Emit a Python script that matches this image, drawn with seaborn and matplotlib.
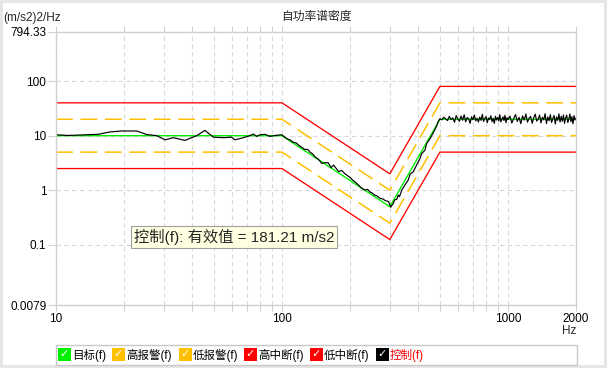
import numpy as np
import pandas as pd
import matplotlib
matplotlib.use("Agg")
import matplotlib.pyplot as plt
from matplotlib.patches import Rectangle
from matplotlib.ticker import FixedLocator, NullLocator, NullFormatter
import seaborn as sns

# ---------------- data ----------------
profile_freq = [10, 100, 300, 500, 2000]
target_psd = [10, 10, 0.5, 20, 20]
high_alarm = [20, 20, 1.0, 40, 40]
low_alarm = [5, 5, 0.25, 10, 10]
high_abort = [40, 40, 2.0, 80, 80]
low_abort = [2.5, 2.5, 0.125, 5, 5]

ctrl_freq_low = [10, 11.3, 13.7, 15.4, 17.3, 19.5, 22.8, 25.2, 27.9, 30.4, 33.0, 37.2,
                 41.9, 45.6, 49.7, 55.0, 59.8, 61.9, 67.5, 72.1, 74.7, 77.3, 80.0,
                 84.1, 88.5, 94.8, 99.8]
ctrl_psd_low = [10.4, 10.1, 10.4, 10.6, 11.7, 12.2, 12.2, 10.5, 10.0, 8.4, 9.2, 8.2,
                10.0, 12.5, 9.4, 9.2, 9.4, 8.4, 9.2, 10.0, 10.7, 9.7, 10.4,
                10.6, 9.7, 10.2, 10.4]

ctrl_freq_mid = [103, 105, 109, 112, 116, 119, 122, 126, 130, 133, 137, 140, 145, 150,
                 155, 160, 165, 169, 174, 178, 184, 190, 195, 200, 205, 210, 218,
                 225, 233, 239, 245, 250, 256, 263, 272, 280, 286, 296, 303, 311,
                 316, 322, 327, 331, 339, 350, 362, 369, 381, 394, 408, 415, 429,
                 437, 452, 460, 475, 484, 492, 500]
ctrl_psd_mid = [9.4, 8.8, 8.3, 7.6, 7.3, 6.6, 6.2, 5.6, 5.6, 5.0, 4.6, 4.1, 3.7, 3.1,
                3.2, 3.2, 2.6, 2.9, 2.5, 2.2, 2.3, 2.0, 1.85, 1.72, 1.55, 1.43, 1.25,
                1.09, 1.01, 1.04, 0.93, 0.90, 0.82, 0.79, 0.71, 0.69, 0.65, 0.62, 0.49, 0.58,
                0.67, 0.68, 0.82, 0.76, 1.01, 1.25, 1.54, 1.98, 2.18, 2.89, 3.82, 4.7, 5.4,
                7.2, 8.8, 10.1, 12.9, 15.4, 18.4, 20.4]

ctrl_freq_high = [510, 520, 530, 540, 550, 560, 570, 580, 590, 600, 610, 620, 630, 640,
                  650, 660, 670, 680, 690, 700, 710, 720, 730, 740, 750, 760, 770, 780,
                  790, 800, 810, 820, 830, 840, 850, 860, 870, 880, 890, 900, 910, 920,
                  930, 940, 950, 960, 970, 980, 990, 1000,
                  1020, 1040, 1060, 1080, 1100, 1120, 1140, 1160, 1180, 1200, 1220, 1240,
                  1260, 1280, 1300, 1320, 1340, 1360, 1380, 1400, 1420, 1440, 1460, 1480,
                  1500, 1520, 1540, 1560, 1580, 1600, 1620, 1640, 1660, 1680, 1700, 1720,
                  1740, 1760, 1780, 1800, 1820, 1840, 1860, 1880, 1900, 1920, 1940, 1960,
                  1980, 2000]
ctrl_psd_high = [19.5, 21.8, 20.4, 18.9, 22.6, 19.8, 21.2, 17.6, 23.4, 20.1, 18.4, 22.9,
                 19.2, 24.1, 18.0, 21.5, 20.3, 16.9, 22.2, 19.6, 23.8, 18.7, 20.9, 17.8,
                 21.9, 19.1, 24.6, 18.3, 20.6, 22.4, 17.4, 21.1, 19.9, 23.2, 18.1, 20.8,
                 16.8, 22.7, 19.4, 21.6, 18.6, 24.3, 17.9, 20.2, 22.1, 19.0, 23.6, 17.3,
                 21.4, 19.7,
                 22.8, 17.1, 20.5, 24.4, 18.2, 21.7, 16.6, 23.1, 19.3, 25.0, 17.7, 20.9,
                 22.5, 16.9, 21.3, 24.8, 18.5, 20.0, 23.9, 17.2, 21.8, 19.5, 25.3, 16.7,
                 22.0, 18.8, 24.2, 17.5, 20.7, 23.4, 16.4, 21.9, 19.1, 25.1, 17.8, 22.6,
                 18.3, 24.0, 16.8, 21.2, 23.7, 17.4, 20.4, 24.9, 18.0, 22.3, 16.5, 23.3,
                 19.4, 21.0]

y_ticks = [0.0079, 0.1, 1, 10, 100, 794.33]
y_tick_labels = ["0.0079", "0.1", "1", "10", "100", "794.33"]
x_ticks = [10, 100, 1000, 2000]
x_tick_labels = ["10", "100", "1000", "2000"]
x_minor = [20, 30, 40, 50, 60, 70, 80, 90, 200, 300, 400, 500, 600, 700, 800, 900]

legend_labels = ["目标(f)", "高报警(f)", "低报警(f)", "高中断(f)", "低中断(f)", "控制(f)"]
rms_text = "控制(f): 有效值 = 181.21 m/s2"

# ---------------- style ----------------
sns.set_style("white")
plt.rcParams["font.family"] = ["Liberation Sans", "Noto Sans CJK SC", "DejaVu Sans"]

W, H = 607, 368
fig = plt.figure(figsize=(W / 100, H / 100), dpi=100)
fig.patch.set_facecolor("white")
ax = fig.add_axes([56 / W, (H - 305) / H, 520 / W, 273 / H])
ax.set_xscale("log")
ax.set_yscale("log")

RED = "#FF0000"
YEL = "#FFC000"
GRN = "#00F000"

prof = pd.DataFrame({"f": profile_freq, "target": target_psd, "ha": high_alarm,
                     "la": low_alarm, "hb": high_abort, "lb": low_abort})
ctrl = pd.DataFrame({"f": ctrl_freq_low + ctrl_freq_mid + ctrl_freq_high,
                     "v": ctrl_psd_low + ctrl_psd_mid + ctrl_psd_high})

sns.lineplot(data=prof, x="f", y="hb", ax=ax, color=RED, lw=0.95, estimator=None, sort=False)
sns.lineplot(data=prof, x="f", y="lb", ax=ax, color=RED, lw=0.95, estimator=None, sort=False)
sns.lineplot(data=prof, x="f", y="ha", ax=ax, color=YEL, lw=1.1, estimator=None, sort=False,
             linestyle=(0, (11, 5)))
sns.lineplot(data=prof, x="f", y="la", ax=ax, color=YEL, lw=1.1, estimator=None, sort=False,
             linestyle=(0, (11, 5)))
sns.lineplot(data=prof, x="f", y="target", ax=ax, color=GRN, lw=1.0, estimator=None, sort=False)
sns.lineplot(data=ctrl, x="f", y="v", ax=ax, color="black", lw=0.85, estimator=None, sort=False)

ax.set_xlim(10, 2000)
ax.set_ylim(0.0079, 794.33)
ax.set_xlabel("")
ax.set_ylabel("")

ax.xaxis.set_major_locator(FixedLocator(x_ticks))
ax.set_xticklabels(x_tick_labels)
ax.xaxis.set_minor_locator(FixedLocator(x_minor))
ax.xaxis.set_minor_formatter(NullFormatter())
ax.yaxis.set_major_locator(FixedLocator(y_ticks))
ax.set_yticklabels(y_tick_labels)
ax.yaxis.set_minor_locator(NullLocator())

spine_c = "#D0D0D0"
for s in ax.spines.values():
    s.set_color(spine_c)
    s.set_linewidth(1.0)

ax.tick_params(axis="x", which="both", top=True, bottom=True, direction="out",
               length=4, width=0.8, color=spine_c, labelsize=8.5, pad=2, labelcolor="black")
ax.tick_params(axis="y", which="major", left=True, direction="out", length=6, width=0.8,
               color=spine_c, labelsize=8.5, pad=1, labelcolor="black")

grid_kw = dict(color="#D8D8D8", lw=0.8, linestyle=(0, (4, 3)))
ax.grid(True, which="major", axis="both", **grid_kw)
ax.grid(True, which="minor", axis="x", **grid_kw)
ax.set_axisbelow(True)

# texts
fig.text(316 / W, 1 - 17 / H, "自功率谱密度", ha="center", va="center", fontsize=8.5)
fig.text(3 / W, 1 - 18 / H, "(m/s2)2/Hz", ha="left", va="center", fontsize=8.5)
fig.text(569 / W, 1 - 331 / H, "Hz", ha="center", va="center", fontsize=8.5)
fig.text(134 / W, 1 - 237 / H, rms_text, ha="left", va="center", fontsize=11,
         bbox=dict(boxstyle="square,pad=0.18", fc="#FFFFE1", ec="#A0A0A0", lw=0.8))

# legend (check-box style strip)
leg_colors = [GRN, YEL, YEL, RED, RED, "black"]
leg_x = [58, 112, 179, 244, 310, 376]
box_y0, box_y1 = 345, 365
fig.patches.append(Rectangle((56 / W, 1 - box_y1 / H), (577 - 56) / W, (box_y1 - box_y0) / H,
                             transform=fig.transFigure, fc="white", ec="#C8C8C8", lw=1.0))
sq = 13
for x0, c, lab in zip(leg_x, leg_colors, legend_labels):
    fig.patches.append(Rectangle((x0 / W, 1 - (348 + sq) / H), sq / W, sq / H,
                                 transform=fig.transFigure, fc=c, ec="none"))
    fig.text((x0 + sq / 2) / W, 1 - 354.5 / H, "✓", color="white", ha="center",
             va="center", fontsize=8, family=["DejaVu Sans"], fontweight="bold")
    fig.text((x0 + sq + 1) / W, 1 - 355 / H, lab, ha="left", va="center", fontsize=8.3,
             color=(RED if lab == "控制(f)" else "black"))

fig.patch.set_edgecolor("#E6E6E6")
fig.patch.set_linewidth(3)

fig.savefig("out.png", dpi=100)
